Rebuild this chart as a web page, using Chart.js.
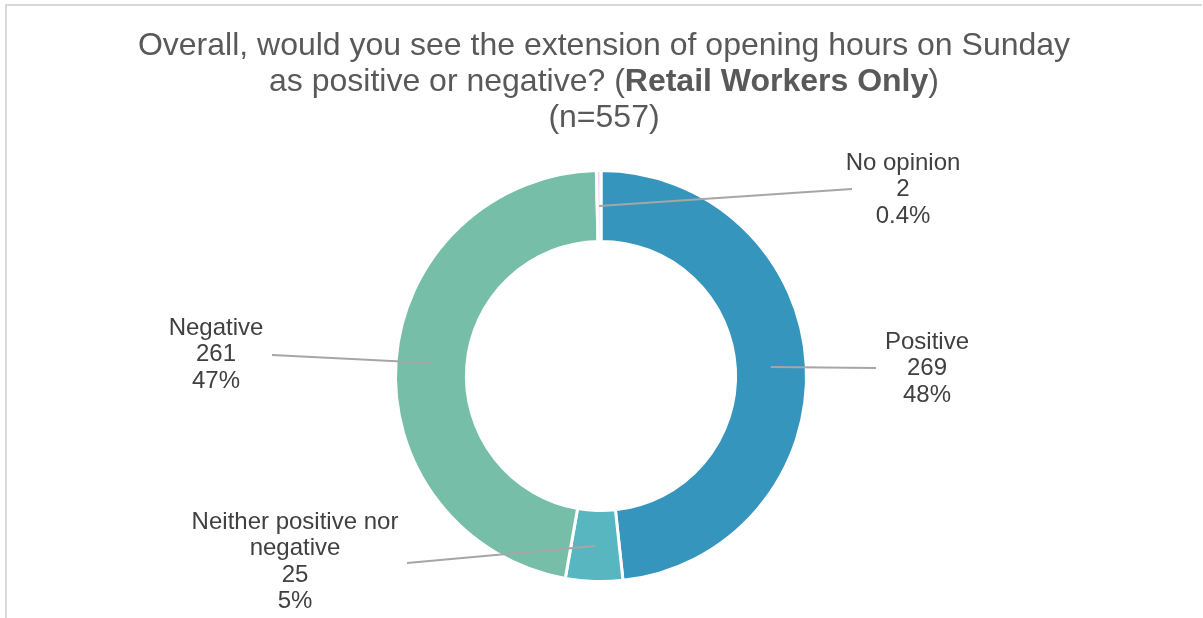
<!DOCTYPE html>
<html>
<head>
<meta charset="utf-8">
<script src="https://cdn.jsdelivr.net/npm/chart.js@4/dist/chart.umd.min.js"></script>
<style>
  html, body { margin: 0; padding: 0; background: #fff; overflow: hidden; }
  #wrap { position: relative; width: 1203px; height: 618px; overflow: hidden; }
  #frameTop { position: absolute; left: 5px; top: 4px; width: 1197px; height: 2px; background: #d9d9d9; }
  #frameLeft { position: absolute; left: 5px; top: 4px; width: 2px; height: 614px; background: #d9d9d9; }
  #title { position: absolute; left: 5px; top: 26px; width: 1198px; text-align: center;
           font-family: "Liberation Sans", Arial, sans-serif; font-size: 32px; line-height: 36px;
           color: #595959; }
  #title b { font-weight: bold; }
  canvas { position: absolute; left: 0; top: 0; }
</style>
</head>
<body>
<div id="wrap">
  <div id="frameTop"></div>
  <div id="frameLeft"></div>
  <canvas id="c" width="1203" height="618"></canvas>
  <div id="title">Overall, would you see the extension of opening hours on Sunday<br>as positive or negative? (<b>Retail Workers Only</b>)<br>(n=557)</div>
</div>
<script>
// ---- data ----
const categories = ["Positive", "Neither positive nor negative", "Negative", "No opinion"];
const labelLines = [["Positive"], ["Neither positive nor", "negative"], ["Negative"], ["No opinion"]];
const counts = [269, 25, 261, 2];
const percentLabels = ["48%", "5%", "47%", "0.4%"];
const colors = ["#3595bc", "#58b6c1", "#76bea8", "#f5d5ee"];

// ---- label layout (offsets from chart centre, px) ----
const labelLayout = [
  { lineEnd: [275, -8],   text: [326, -34] },
  { lineEnd: [-194, 187], text: [-306, 146] },
  { lineEnd: [-329, -21], text: [-385, -48] },
  { lineEnd: [251, -187], text: [302, -213] }
];

const labelPlugin = {
  id: 'leaderLabels',
  afterDatasetsDraw(chart) {
    const ctx = chart.ctx;
    const meta = chart.getDatasetMeta(0);
    ctx.save();
    meta.data.forEach((arc, i) => {
      const cx = arc.x, cy = arc.y;
      const p = arc.tooltipPosition();
      const L = labelLayout[i];
      ctx.strokeStyle = '#a6a6a6';
      ctx.lineWidth = 2;
      ctx.beginPath();
      ctx.moveTo(p.x, p.y);
      ctx.lineTo(cx + L.lineEnd[0], cy + L.lineEnd[1]);
      ctx.stroke();
      const lines = labelLines[i].concat([String(counts[i]), percentLabels[i]]);
      ctx.fillStyle = '#404040';
      ctx.font = '24px "Liberation Sans", Arial, sans-serif';
      ctx.textAlign = 'center';
      ctx.textBaseline = 'middle';
      lines.forEach((t, k) => {
        ctx.fillText(t, cx + L.text[0], cy + L.text[1] + k * 26.6);
      });
    });
    ctx.restore();
  }
};

new Chart(document.getElementById('c'), {
  type: 'doughnut',
  data: {
    labels: categories,
    datasets: [{
      data: counts,
      backgroundColor: colors,
      borderColor: '#ffffff',
      borderWidth: 3,
      hoverOffset: 0
    }]
  },
  options: {
    responsive: false,
    animation: false,
    cutout: '65.5%',
    rotation: 0,
    layout: { padding: { top: 169, bottom: 35, left: 100, right: 101 } },
    plugins: { legend: { display: false }, tooltip: { enabled: false }, title: { display: false } }
  },
  plugins: [labelPlugin]
});
</script>
</body>
</html>
